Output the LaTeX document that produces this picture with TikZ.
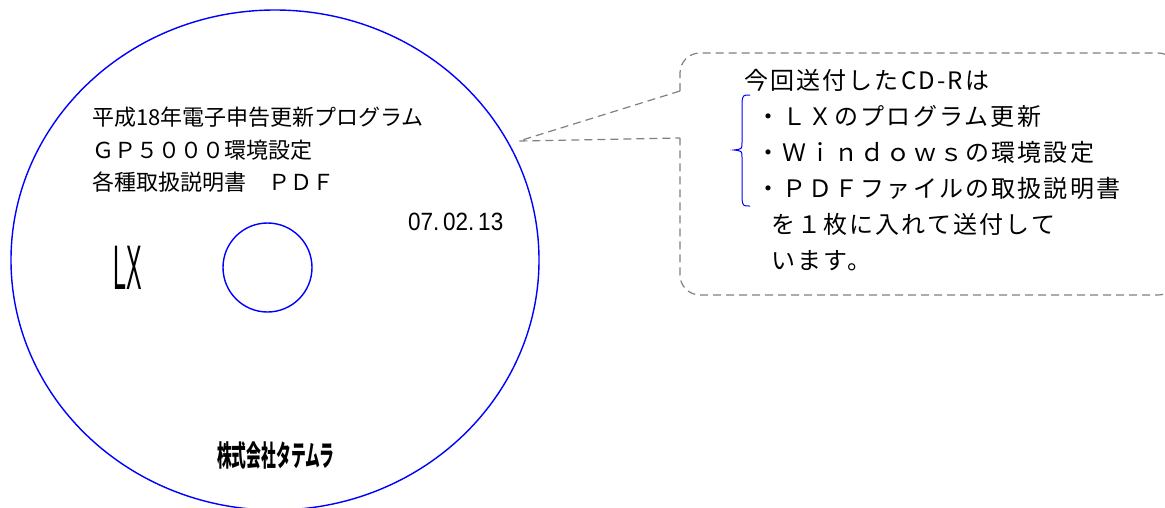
\documentclass[tikz,border=0pt]{standalone}
\usepackage{fontspec}
\usetikzlibrary{shapes.geometric}
\setmainfont{Liberation Sans}
\newfontfamily\jpfont{Noto Sans CJK JP}
\newfontfamily\jpspaced[LetterSpace=9]{Noto Sans CJK JP}

\begin{document}
\begin{tikzpicture}[x=1pt,y=-1pt,
		disc/.style={draw=blue,line width=1.4pt,inner sep=0pt},
		notebox/.style={draw=gray,line width=1.2pt,dash pattern=on 8pt off 5pt},
		disctext/.style={anchor=west,inner sep=0pt,font=\jpfont\fontsize{22}{22}\selectfont},
		notetext/.style={anchor=west,inner sep=0pt,font=\jpspaced\fontsize{24}{24}\selectfont}]
		\useasboundingbox (0,0) rectangle (1165,507);
		\clip (0,0) rectangle (1165,507);
		\def\verticalspacing{36.2}

		\node[disc,ellipse,minimum width=528pt,minimum height=500pt] (cd) at (275,260) {};
		\node[disc,circle,minimum size=89pt] (hole) at (267.5,267.5) {};

		\node[disctext] (title) 	at (92,117) {平成18年電子申告更新プログラム};
		\node[disctext] (gp) 		at (92,150) {ＧＰ５０００環境設定};
		\node[disctext] (manual) 	at (92,182) {各種取扱説明書　ＰＤＦ};
		\node[anchor=west,inner sep=0pt,font=\fontsize{25}{25}\selectfont] (date) at (408,222) {\scalebox{0.9}[1]{07.\,02.\,13}};
		\node[anchor=west,inner sep=0pt,font=\fontsize{63}{63}\selectfont] (lx) at (113,268) {\scalebox{0.37}[1]{LX}};
		\node[anchor=west,inner sep=0pt,font=\jpfont\bfseries\fontsize{29}{29}\selectfont] (maker) at (217,455) {\scalebox{0.51}[1]{株式会社タテムラ}};

		\coordinate (tip) 		at (519,141);
		\coordinate (ptr top) 		at (680,91);
		\coordinate (ptr bottom) 	at (680,138);
		\draw[notebox,rounded corners=20pt] (ptr top) -- (680,53) -- (1178,53) -- (1178,295) -- (680,295) -- (ptr bottom);
		\draw[notebox] (ptr top) -- (tip) -- (ptr bottom);

		\node[notetext] (note0) at (744,80) {今回送付したCD-Rは};
		\foreach \i/\t in {1/・ＬＸのプログラム更新,2/・Ｗｉｎｄｏｗｓの環境設定,3/・ＰＤＦファイルの取扱説明書}
		{
				\node[notetext] (note\i) at (756,80+\verticalspacing*\i) {\t};
		}
		\node[notetext] (note4) at (771,80+\verticalspacing*4) {を１枚に入れて送付して};
		\node[notetext] (note5) at (771,80+\verticalspacing*5) {います。};

		\draw[blue,line width=1pt] (750,95) .. controls (743,95) .. (742,102) -- (742,143) .. controls (742,149) .. (734,150) .. controls (742,151) .. (742,157) -- (742,199) .. controls (743,206) .. (750,206);
\end{tikzpicture}
\end{document}
